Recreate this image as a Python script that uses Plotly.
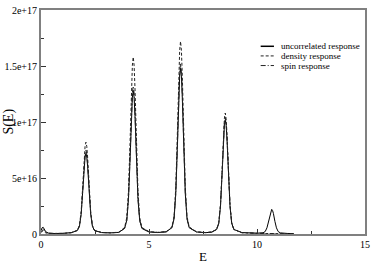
import plotly.graph_objects as go
import numpy as np

# Energy grid
E = [0.0, 0.05, 0.1, 0.15, 0.22, 0.35, 0.6, 1.0, 1.4,
     1.68, 1.78, 1.86, 1.93, 2.00, 2.04, 2.08, 2.12, 2.16, 2.23, 2.30, 2.38, 2.48,
     2.8, 3.2, 3.6,
     3.87, 3.97, 4.05, 4.12, 4.19, 4.23, 4.27, 4.31, 4.35, 4.42, 4.49, 4.57, 4.67,
     5.0, 5.4, 5.8,
     6.06, 6.16, 6.24, 6.31, 6.38, 6.42, 6.46, 6.50, 6.54, 6.61, 6.68, 6.76, 6.86,
     7.2, 7.6, 7.9,
     8.13, 8.23, 8.31, 8.38, 8.45, 8.49, 8.53, 8.57, 8.61, 8.68, 8.75, 8.83, 8.93,
     9.3, 9.7, 10.0,
     10.28, 10.38, 10.46, 10.53, 10.60, 10.64, 10.68, 10.72, 10.76, 10.83, 10.90, 10.98, 11.08,
     11.4, 11.7]

# S(E) values in units of 1e15
uncorrelated = [3, 5.5, 6, 4, 2, 0.8, 0.4, 0.6, 1.2,
                3.0, 6.8, 17.8, 37, 60, 68.7, 72, 68.7, 60, 37, 17.8, 6.8, 3.0,
                1.3, 1.0, 1.4,
                5, 12, 31, 65, 106, 122, 128, 122, 106, 65, 31, 12, 5,
                1.8, 1.3, 1.9,
                5.6, 13.5, 36, 75.5, 123, 141, 148, 141, 123, 75.5, 36, 13.5, 5.6,
                1.8, 1.2, 1.6,
                4, 9.5, 25, 52, 85, 97.3, 102, 97.3, 85, 52, 25, 9.5, 4,
                1.3, 0.8, 0.7,
                1.1, 2.2, 5.5, 11.2, 18.3, 21, 22, 21, 18.3, 11.2, 5.5, 2.2, 1.0,
                0.5, 0.3]

density = [1.5, 2.5, 3, 2, 1, 0.5, 0.3, 0.5, 1.2,
           3.3, 7.8, 20.2, 42, 68, 78.2, 82, 78.2, 68, 42, 20.2, 7.8, 3.3,
           1.4, 1.1, 1.6,
           5.8, 14.5, 38.3, 80.6, 131, 150.7, 158, 150.7, 131, 80.6, 38.3, 14.5, 5.8,
           2.1, 1.5, 2.2,
           6.3, 15.6, 41.5, 87.7, 142.8, 164, 172, 164, 142.8, 87.7, 41.5, 15.6, 6.3,
           2.0, 1.3, 1.8,
           4.2, 10, 26.3, 55.1, 89.6, 103, 108, 103, 89.6, 55.1, 26.3, 10, 4.2,
           1.1, 0.6, 0.4,
           0.4, 0.4, 0.4, 0.4, 0.4, 0.4, 0.4, 0.4, 0.4, 0.3, 0.3, 0.3, 0.3,
           0.2, 0.1]

spin = [2, 3.5, 4, 3, 1.5, 0.6, 0.3, 0.5, 1.2,
        3.1, 7.1, 18.5, 38.5, 62.4, 71.5, 75, 71.5, 62.4, 38.5, 18.5, 7.1, 3.1,
        1.3, 1.0, 1.5,
        5.1, 12.3, 32, 67.3, 109.6, 126, 132, 126, 109.6, 67.3, 32, 12.3, 5.1,
        1.9, 1.3, 2.0,
        5.8, 13.9, 36.9, 77.5, 126, 145, 152, 145, 126, 77.5, 36.9, 13.9, 5.8,
        1.8, 1.2, 1.7,
        4.1, 9.7, 25.4, 53, 86.3, 99.2, 104, 99.2, 86.3, 53, 25.4, 9.7, 4.1,
        1.2, 0.7, 0.5,
        0.4, 0.4, 0.4, 0.4, 0.4, 0.4, 0.4, 0.4, 0.4, 0.3, 0.3, 0.3, 0.3,
        0.2, 0.1]

UNIT = 1e15
series_names = ["uncorrelated response", "density response", "spin response"]
x_tickvals = [0, 5, 10, 15]
x_ticktext = ["0", "5", "10", "15"]
y_tickvals = [0, 5e16, 1e17, 1.5e17, 2e17]
y_ticktext = ["0", "5e+16", "1e+17", "1.5e+17", "2e+17"]

FONT = "Liberation Serif"
styles = [dict(color="black", width=1, dash="solid"),
          dict(color="#222222", width=1, dash="3px,2px"),
          dict(color="#222222", width=1, dash="5px,2px,1px,2px")]

fig = go.Figure()
for name, vals, st in zip(series_names, [uncorrelated, density, spin], styles):
    fig.add_trace(go.Scatter(x=E, y=np.array(vals) * UNIT, mode="lines",
                             name=name, line=st, showlegend=False))

axis_common = dict(showline=True, mirror=True, linecolor="#808080", linewidth=2,
                   ticks="inside", ticklen=5, tickcolor="#333333", tickwidth=1,
                   showgrid=False, zeroline=False,
                   tickfont=dict(family=FONT, size=10, color="black"))
fig.update_xaxes(range=[0, 15], tickvals=x_tickvals, ticktext=x_ticktext,
                 minor=dict(ticks="inside", ticklen=3, dtick=2.5, tick0=0,
                            tickcolor="#333333"),
                 **axis_common)
fig.update_yaxes(range=[0, 2e17], tickvals=y_tickvals, ticktext=y_ticktext,
                 minor=dict(ticks="inside", ticklen=3, dtick=2.5e16, tick0=0,
                            tickcolor="#333333"),
                 **axis_common)

# axis titles
fig.add_annotation(text="E", xref="paper", yref="paper", x=0.5, y=-0.06,
                   xanchor="center", yanchor="top", showarrow=False,
                   font=dict(family=FONT, size=13, color="black"))
fig.add_annotation(text="S(E)", xref="paper", yref="paper", x=-0.1, y=0.5,
                   xanchor="center", yanchor="middle", textangle=-90, showarrow=False,
                   font=dict(family=FONT, size=14, color="black"))

# legend drawn manually
leg_rows = [0.838, 0.795, 0.752]
for name, st, yy in zip(series_names, styles, leg_rows):
    fig.add_shape(type="line", xref="paper", yref="paper", x0=0.678, x1=0.719,
                  y0=yy, y1=yy, line=dict(color=st["color"], width=1.5 if st["dash"] == "solid" else 1,
                                          dash=st["dash"]))
    fig.add_annotation(text=name, xref="paper", yref="paper", x=0.736, y=yy,
                       xanchor="left", yanchor="middle", showarrow=False,
                       font=dict(family=FONT, size=9, color="black"))

fig.update_layout(width=374, height=266, margin=dict(l=41, r=6, t=4, b=32),
                  plot_bgcolor="white", paper_bgcolor="white",
                  font=dict(family=FONT, color="black"))
fig.write_html("out.html", config={"displayModeBar": False},
               post_script="document.body.style.margin='0';document.body.style.padding='0';")
